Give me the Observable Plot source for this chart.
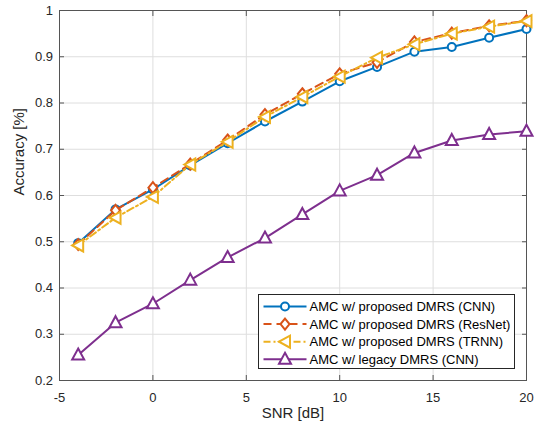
<!DOCTYPE html>
<html><head><meta charset="utf-8">
<script src="https://cdn.jsdelivr.net/npm/d3@7"></script>
<script src="https://cdn.jsdelivr.net/npm/@observablehq/plot@0.6"></script>
<style>body{margin:0;background:#fff} #chart{position:relative;width:540px;height:429px}</style>
</head><body><div id="chart"></div>
<script>
const snr = [-4, -2, 0, 2, 4, 6, 8, 10, 12, 14, 16, 18, 20];
const cnn = [0.497, 0.570, 0.613, 0.665, 0.713, 0.760, 0.803, 0.847, 0.878, 0.911, 0.921, 0.941, 0.960];
const resnet = [0.494, 0.568, 0.617, 0.668, 0.720, 0.775, 0.820, 0.863, 0.888, 0.932, 0.951, 0.967, 0.978];
const trnn = [0.492, 0.552, 0.597, 0.667, 0.716, 0.770, 0.813, 0.857, 0.898, 0.927, 0.950, 0.965, 0.977];
const legacy = [0.255, 0.325, 0.366, 0.417, 0.466, 0.508, 0.559, 0.610, 0.644, 0.692, 0.719, 0.732, 0.739];
const seriesNames = ["AMC w/ proposed DMRS (CNN)", "AMC w/ proposed DMRS (ResNet)", "AMC w/ proposed DMRS (TRNN)", "AMC w/ legacy DMRS (CNN)"];
const xTicks = [-5, 0, 5, 10, 15, 20];
const yTicks = [0.2, 0.3, 0.4, 0.5, 0.6, 0.7, 0.8, 0.9, 1];
const xLabel = "SNR [dB]";
const yLabel = "Accuracy [%]";

const circleSym = {draw(c) { c.moveTo(4, 0); c.arc(0, 0, 4, 0, 2 * Math.PI); c.closePath(); }};
const diamondSym = {draw(c) { c.moveTo(0, -5.5); c.lineTo(4.5, 0); c.lineTo(0, 5.5); c.lineTo(-4.5, 0); c.closePath(); }};
const leftTriSym = {draw(c) { c.moveTo(-6, 0); c.lineTo(5, -6); c.lineTo(5, 6); c.closePath(); }};
const upTriSym = {draw(c) { c.moveTo(0, -6.5); c.lineTo(6, 4.5); c.lineTo(-6, 4.5); c.closePath(); }};

const series = [
  {name: seriesNames[0], values: cnn, color: "#0072BD", dash: null, sym: circleSym},
  {name: seriesNames[1], values: resnet, color: "#D95319", dash: "8,5", sym: diamondSym},
  {name: seriesNames[2], values: trnn, color: "#EDB120", dash: "7,3,2,3", sym: leftTriSym},
  {name: seriesNames[3], values: legacy, color: "#7E2F8E", dash: null, sym: upTriSym}
];

const fmt = d => String(+(+d).toFixed(1));
const tickColor = "#555";
const font = "'Liberation Sans', Arial, sans-serif";

const marks = [
  Plot.gridX(xTicks, {stroke: "#dedede", strokeOpacity: 1}),
  Plot.gridY(yTicks, {stroke: "#dedede", strokeOpacity: 1}),
  Plot.axisX(xTicks, {anchor: "bottom", tickSize: 0, tickPadding: 12, tickFormat: fmt, fontSize: 13, fill: "#262626", label: null}),
  Plot.axisY(yTicks, {anchor: "left", tickSize: 0, tickPadding: 6.5, tickFormat: fmt, fontSize: 13, fill: "#262626", label: null}),
  Plot.axisX(xTicks, {anchor: "bottom", tickSize: -5, tickFormat: () => "", label: null, stroke: tickColor}),
  Plot.axisX(xTicks, {anchor: "top", tickSize: -5, tickFormat: () => "", label: null, stroke: tickColor}),
  Plot.axisY(yTicks, {anchor: "left", tickSize: -5, tickFormat: () => "", label: null, stroke: tickColor}),
  Plot.axisY(yTicks, {anchor: "right", tickSize: -5, tickFormat: () => "", label: null, stroke: tickColor}),
  Plot.frame({stroke: tickColor}),
  Plot.text([xLabel], {frameAnchor: "bottom", dy: 37, fontSize: 15, fill: "#262626", text: d => d}),
  Plot.text([yLabel], {frameAnchor: "left", dx: -40, rotate: -90, fontSize: 15, fill: "#262626", text: d => d})
];
for (const s of series) {
  marks.push(Plot.line(s.values, {x: (d, i) => snr[i], y: d => d, stroke: s.color, strokeWidth: 2,
    strokeDasharray: s.dash, strokeLinejoin: "round"}));
  marks.push(Plot.dot(s.values, {x: (d, i) => snr[i], y: d => d, stroke: s.color, strokeWidth: 2,
    fill: "white", symbol: s.sym, r: 4}));
}

const chart = Plot.plot({
  width: 540, height: 429,
  marginLeft: 59, marginRight: 14, marginTop: 10, marginBottom: 49,
  style: {fontFamily: font, fontSize: "13px", color: "#262626", background: "white", overflow: "visible"},
  x: {domain: [-5, 20]},
  y: {domain: [0.2, 1]},
  marks
});
document.getElementById("chart").appendChild(chart);

// Legend inside the plot area (MATLAB style)
const svg = d3.select(chart);
const lg = svg.append("g").attr("transform", "translate(258.5,294.5)")
  .attr("font-family", font).attr("font-size", 13).attr("text-anchor", "start");
lg.append("rect").attr("width", 256).attr("height", 74).attr("fill", "white").attr("stroke", "#262626").attr("stroke-width", 1);
series.forEach((s, i) => {
  const y = 12 + i * 17.6;
  lg.append("line").attr("x1", 5).attr("x2", 48).attr("y1", y).attr("y2", y)
    .attr("stroke", s.color).attr("stroke-width", 2).attr("stroke-dasharray", s.dash);
  const p = d3.path(); s.sym.draw(p);
  lg.append("path").attr("d", p.toString()).attr("transform", `translate(26.5,${y})`)
    .attr("fill", "white").attr("stroke", s.color).attr("stroke-width", 2);
  lg.append("text").attr("x", 51).attr("y", y).attr("dy", "0.35em").attr("fill", "#000")
    .attr("text-anchor", "start").text(s.name);
});
</script>
</body></html>
